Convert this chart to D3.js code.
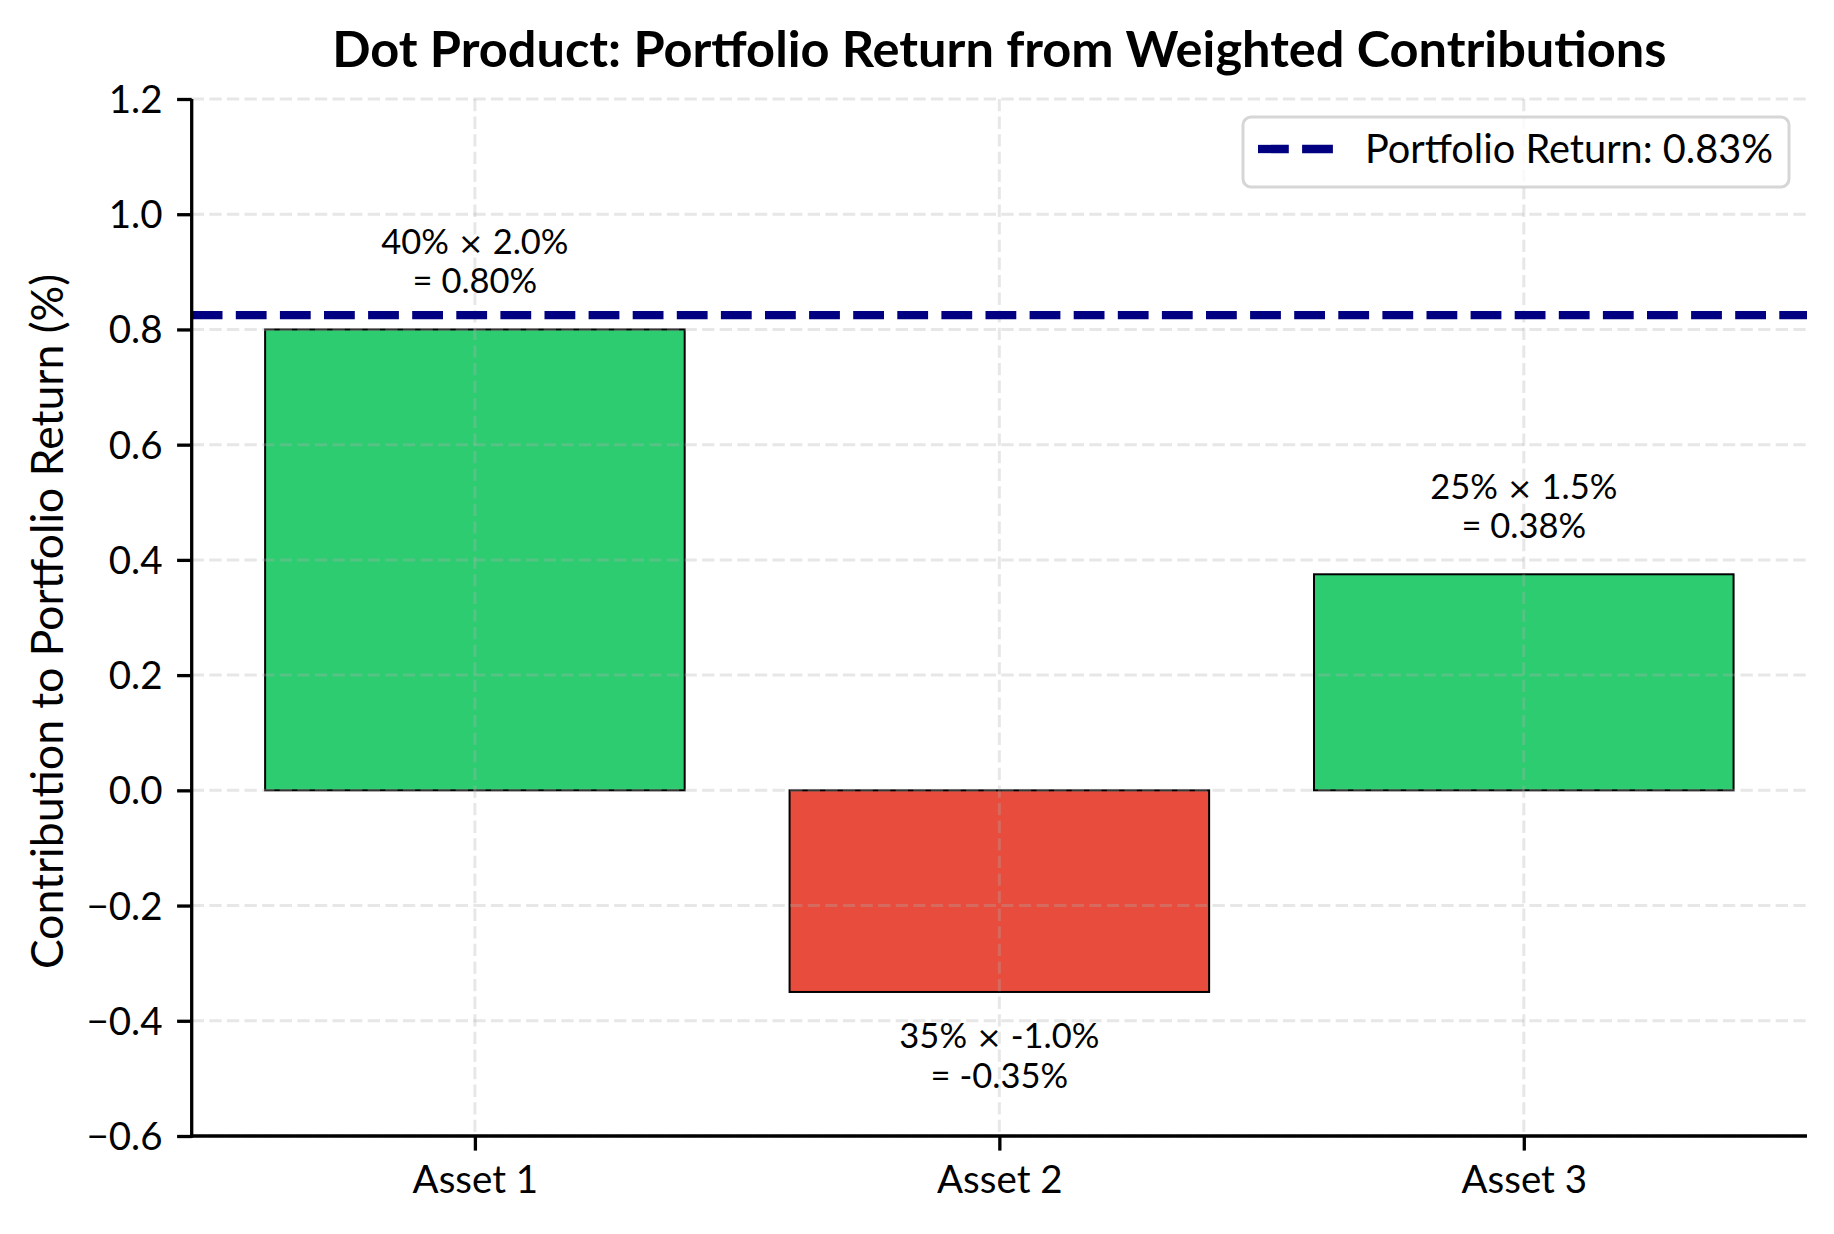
<!DOCTYPE html>
<html>
<head>
<meta charset="utf-8">
<script src="https://cdn.jsdelivr.net/npm/d3@7"></script>
<style>
  body { margin: 0; background: #ffffff; }
  text { font-family: Lato, "Liberation Sans", sans-serif; fill: #000; }
</style>
</head>
<body>
<svg id="chart" width="1834" height="1234"></svg>
<script>
// ---- data ----
const assets = ["Asset 1", "Asset 2", "Asset 3"];
const weights = [40, 35, 25];          // %
const returns = [2.0, -1.0, 1.5];      // %
const contributions = [0.80, -0.35, 0.375]; // % contribution
const portfolioReturn = 0.825;
const portfolioLabel = "Portfolio Return: 0.83%";
const yTicks = [-0.6, -0.4, -0.2, 0.0, 0.2, 0.4, 0.6, 0.8, 1.0, 1.2];
const title = "Dot Product: Portfolio Return from Weighted Contributions";
const yLabel = "Contribution to Portfolio Return (%)";

// ---- layout ----
const W = 1834, H = 1234;
const plot = { left: 191.7, right: 1807, top: 99, bottom: 1136 };
const svg = d3.select("#chart");

const x = d3.scaleLinear().domain([-0.54, 2.54]).range([plot.left, plot.right]);
const y = d3.scaleLinear().domain([-0.6, 1.2]).range([plot.bottom, plot.top]);
const barW = x(0.8) - x(0);

const green = "#2ecc71", red = "#e74c3c";

// bars
svg.append("g").selectAll("rect").data(contributions).join("rect")
  .attr("x", (d, i) => x(i) - barW / 2)
  .attr("width", barW)
  .attr("y", d => y(Math.max(0, d)))
  .attr("height", d => Math.abs(y(d) - y(0)))
  .attr("fill", d => d >= 0 ? green : red)
  .attr("stroke", "#000")
  .attr("stroke-width", 2);

// grid (drawn over bars, as in the reference)
const grid = svg.append("g")
  .attr("stroke", "#b0b0b0").attr("stroke-opacity", 0.3)
  .attr("stroke-width", 3).attr("stroke-dasharray", "12.3,5.3");
grid.selectAll("line.h").data(yTicks).join("line").attr("class", "h")
  .attr("x1", plot.left).attr("x2", plot.right)
  .attr("y1", d => y(d)).attr("y2", d => y(d));
grid.selectAll("line.v").data(assets.map((a, i) => i)).join("line").attr("class", "v")
  .attr("y1", plot.top).attr("y2", plot.bottom)
  .attr("x1", d => x(d)).attr("x2", d => x(d));

// portfolio return line
svg.append("line")
  .attr("x1", plot.left).attr("x2", plot.right)
  .attr("y1", y(portfolioReturn)).attr("y2", y(portfolioReturn))
  .attr("stroke", "#000080").attr("stroke-width", 8.3)
  .attr("stroke-dasharray", "30.8,13.3");

// axes
const tickLen = 14.6, tickPad = 14.6;
const yAxis = d3.axisLeft(y).tickValues(yTicks).tickFormat(d3.format(".1f"))
  .tickSize(tickLen).tickPadding(tickPad).tickSizeOuter(0);
const gy = svg.append("g").attr("transform", `translate(${plot.left},0)`).call(yAxis);
const xAxis = d3.axisBottom(x).tickValues([0, 1, 2]).tickFormat(i => assets[i])
  .tickSize(tickLen).tickPadding(tickPad).tickSizeOuter(0);
const gx = svg.append("g").attr("transform", `translate(0,${plot.bottom})`).call(xAxis);

[gx, gy].forEach(g => {
  g.select(".domain").remove();
  g.selectAll(".tick line").attr("stroke", "#000").attr("stroke-width", 3.3);
  g.selectAll(".tick text").attr("font-size", 38.5).attr("fill", "#000");
});
gy.selectAll(".tick text").attr("dy", "0.35em");
gx.selectAll(".tick text").attr("dy", "0.72em");

// spines
svg.append("line").attr("x1", plot.left).attr("x2", plot.left)
  .attr("y1", plot.top).attr("y2", plot.bottom + 1.65)
  .attr("stroke", "#000").attr("stroke-width", 3.3);
svg.append("line").attr("x1", plot.left - 1.65).attr("x2", plot.right)
  .attr("y1", plot.bottom).attr("y2", plot.bottom)
  .attr("stroke", "#000").attr("stroke-width", 3.3);

// annotations
const ann = svg.append("g").attr("font-size", 34.5).attr("text-anchor", "middle");
contributions.forEach((c, i) => {
  const l2 = `= ${c.toFixed(2)}%`;
  let b1, b2;
  if (c >= 0) {
    b2 = y(c) - 36; b1 = b2 - 39.5;
  } else {
    b1 = y(c) + 56; b2 = b1 + 40;
  }
  const t1 = ann.append("text").attr("x", x(i)).attr("y", b1);
  t1.append("tspan").text(`${weights[i]}% `);
  t1.append("tspan").attr("font-family", "'DejaVu Sans', sans-serif").attr("font-size", 31).text("\u00d7");
  t1.append("tspan").text(` ${returns[i].toFixed(1)}%`);
  ann.append("text").attr("x", x(i)).attr("y", b2).text(l2);
});

// title
svg.append("text")
  .attr("x", (plot.left + plot.right) / 2).attr("y", 67)
  .attr("text-anchor", "middle").attr("font-size", 50.5).attr("font-weight", "bold")
  .text(title);

// y label
svg.append("text")
  .attr("transform", `translate(63,${(plot.top + plot.bottom) / 2 + 4}) rotate(-90)`)
  .attr("text-anchor", "middle").attr("font-size", 44.5)
  .text(yLabel);

// legend
const lg = svg.append("g");
lg.append("rect").attr("x", 1243).attr("y", 117).attr("width", 546).attr("height", 70)
  .attr("rx", 8).attr("fill", "#fff").attr("fill-opacity", 0.8)
  .attr("stroke", "#cccccc").attr("stroke-opacity", 0.8).attr("stroke-width", 3);
lg.append("line").attr("x1", 1258).attr("x2", 1334).attr("y1", 149).attr("y2", 149)
  .attr("stroke", "#000080").attr("stroke-width", 8.3).attr("stroke-dasharray", "30.8,13.3");
lg.append("text").attr("x", 1365).attr("y", 163.3).attr("font-size", 39.7).text(portfolioLabel);
</script>
</body>
</html>
